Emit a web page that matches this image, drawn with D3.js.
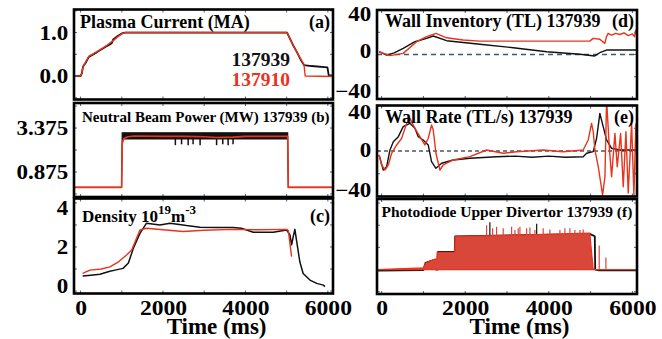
<!DOCTYPE html>
<html><head><meta charset="utf-8">
<script src="https://cdn.jsdelivr.net/npm/d3@7"></script>
<style>
body{margin:0;background:#fff;}
svg{display:block;}
svg text{font-family:"Liberation Serif","DejaVu Serif",Times,serif !important;font-weight:bold;}
</style></head><body>
<svg id="c" width="662" height="339"></svg>
<script>
// ================= DATA =================
const timeLabelTicks = [0, 2000, 4000, 6000];
const timeMinorTicks = [0, 1000, 2000, 3000, 4000, 5000, 6000];
const shotNames = ["137939", "137910"];

// (a) Plasma current, MA  [time ms, value]
const ip939 = [[-160,0],[0,0],[30,0.06],[60,0.22],[120,0.3],[200,0.44],[400,0.55],[600,0.67],[700,0.72],[760,0.76],[790,0.84],[900,0.92],[1000,0.98],[1080,1.0],[5010,1.0],[5060,0.9],[5150,0.72],[5250,0.55],[5350,0.36],[5420,0.25],[5600,0.23],[5990,0.2],[6020,0.02],[6125,0.01]];
const ip910 = [[-160,0],[0,0],[30,0.06],[60,0.22],[120,0.32],[200,0.45],[400,0.56],[600,0.68],[700,0.75],[800,0.82],[900,0.9],[1000,0.97],[1080,1.0],[5010,1.0],[5060,0.9],[5150,0.72],[5250,0.55],[5350,0.38],[5420,0.27],[5450,0.0],[6125,-0.01]];

// (b) Neutral beam power, MW
const nbi939Time = [-160, 995, 1010, 5025, 5040, 6125];
const nbi939Low  = [0, 0, 2.75, 2.75, 0, 0];
const nbi939High = [0, 0, 3.1, 3.1, 0, 0];
const nbi939DipTime = [2300, 2450, 2610, 2730, 2900, 3300, 3450, 3580, 3700];
const nbi939DipValue = [2.4, 2.45, 2.4, 2.45, 2.4, 2.4, 2.45, 2.4, 2.45];
const nbi910 = [[-160,0],[995,0],[1010,2.5],[1050,2.78],[1150,2.88],[1300,2.92],[2000,2.9],[2500,2.9],[3000,2.88],[3300,2.84],[3700,2.86],[4000,2.9],[4500,2.9],[5025,2.9],[5040,0],[6125,0]];

// (c) Density, 1e19 m^-3
const ne939 = [[50,0.68],[250,0.72],[470,0.76],[710,0.9],[835,0.95],[1030,1.03],[1160,1.27],[1280,1.94],[1440,2.62],[1600,3.08],[1925,3.0],[2170,3.08],[2570,2.97],[2900,2.9],[3300,2.88],[3700,2.88],[3900,2.85],[4190,2.67],[4675,2.67],[5000,2.77],[5080,2.55],[5120,2.1],[5160,2.47],[5200,2.8],[5240,2.3],[5320,1.33],[5400,0.8],[5565,0.5],[5730,0.35],[5890,0.27],[5930,0.2]];
const ne910 = [[50,0.8],[226,0.95],[500,1.0],[710,1.1],[900,1.3],[1115,1.64],[1240,1.86],[1440,2.77],[1600,2.85],[2000,2.78],[2490,2.7],[3000,2.76],[3700,2.8],[4300,2.78],[5000,2.8],[5040,2.75],[5120,1.56]];

// (d) Wall inventory, TL
const wi939 = [[-60,2.5],[120,-0.5],[300,1.5],[517,5.5],[797,11.5],[1077,14.5],[1235,16.6],[1555,12.4],[2350,9.2],[3150,6.1],[3950,2.5],[4745,0.2],[5100,-1.3],[5220,1.6],[5380,4],[6110,4]];
const wi910 = [[-60,2.5],[200,-1],[517,1],[837,11.5],[1077,16],[1300,19],[1555,15],[1950,13],[2350,12],[4980,12],[5060,14.5],[5220,13.7],[5340,10],[5380,16],[5420,19],[5500,17.5],[5600,19],[5700,18],[5800,19.5],[5900,17],[6000,18.5],[6050,16],[6080,22],[6110,16]];

// (e) Wall rate, TL/s
const wr939 = [[-60,-3.5],[40,-16.7],[120,-13.8],[200,0.9],[280,8.2],[400,12.6],[517,21.4],[677,24.3],[797,20],[877,12.6],[995,9.7],[1115,5.3],[1195,-9.4],[1300,-15.2],[1435,-10.8],[1713,-7.9],[2112,-6.4],[2750,-5],[3200,-4.5],[3600,-5.5],[4000,-4.5],[4400,-5.5],[4823,-5],[4904,-2],[5062,-0.6],[5143,11],[5222,33],[5301,21.4],[5383,9.7],[5502,2.4],[5700,0.9],[6110,0.9]];
const wr910 = [[-60,-3.5],[0,-12.3],[80,-16.7],[160,-12.3],[240,-2],[360,5.3],[478,11],[600,24.3],[677,28.7],[797,20],[916,12.6],[1036,5.3],[1115,11],[1196,22.9],[1236,18.5],[1300,-2],[1395,-16.7],[1474,-12.3],[1713,-7.9],[2112,-5],[2512,0.9],[2910,-2],[3230,-0.6],[3866,0.9],[4344,-0.6],[4823,0.9],[4943,9.7],[5023,24.3],[5063,17],[5103,0.9],[5183,-13.8],[5287,-38.7],[5343,-22.6],[5382,45],[5447,3.8],[5502,-22.6],[5582,15.5],[5637,-13.8],[5718,15.5],[5781,-31.4],[5845,17],[5900,-37],[5981,24.3],[6036,-38.7],[6084,24.3]];

// (f) Photodiode upper divertor, arb. units
const pd939 = [[-110,-0.05],[1000,-0.02],[1050,0.3],[1280,0.45],[1300,0.0],[1340,0.0],[1350,0.8],[1750,0.8],[1760,1.5],[4990,1.6],[5100,1.5],[5110,0.0],[5200,-0.03],[6110,-0.03]];
const pd910 = [[-110,0],[1000,0.08],[1060,0.3],[1250,0.45],[1320,0.48],[1330,0.78],[1750,0.78],[1760,1.5],[2500,1.52],[3500,1.56],[4500,1.62],[4980,1.64],[5060,0.05],[5070,0],[6110,0]];
const pd910SpikeTime  = [2512,2656,2751,2909,3110,3189,3268,3309,3469,3548,3668,3866,4026,4266,4385,4505,4624,4744,4823,5206,5366];
const pd910SpikeValue = [2.0,1.86,1.93,1.86,1.93,1.78,1.86,1.93,1.86,1.9,1.78,1.86,1.81,1.78,1.86,1.86,1.78,1.78,1.81,1.08,0.55];
const pd939SpikeTime  = [2590, 3710];
const pd939SpikeValue = [2.13, 2.06];

// ================= DRAWING =================
const FONT = '"Liberation Serif","DejaVu Serif",Times,serif';
const BLACK = "#111", RED = "#e8341c", FILL = "#d8473a", TICKC = "#4b6584";
const svg = d3.select("#c");

const xL = d3.scaleLinear().domain([-160, 6125]).range([74, 333]);
const xR = d3.scaleLinear().domain([-110, 6110]).range([377, 637]);

const panels = {
  a: {x: xL, y: d3.scaleLinear().domain([-0.54, 1.53]).range([99.5, 9.5]), minor: [-0.5,0,0.5,1,1.5], labels: [0,1], fmt: d3.format(".1f"), nudge: {}},
  b: {x: xL, y: d3.scaleLinear().domain([-0.55, 4.8]).range([197, 103]), minor: [-0.375,0.875,2.125,3.375,4.625], labels: [0.875,3.375], fmt: d3.format(".3f"), nudge: {}},
  c: {x: xL, y: d3.scaleLinear().domain([-0.11, 4.2]).range([293.5, 198.5]), minor: [0,1,2,3,4], labels: [0,2,4], fmt: d3.format("d"), nudge: {"4": 5, "0": -5}},
  d: {x: xR, y: d3.scaleLinear().domain([-40, 40]).range([99, 10]), minor: [-40,-20,0,20,40], labels: [-40,0,40], fmt: d3.format("d"), nudge: {"40": 4, "0": -4, "-40": -8}},
  e: {x: xR, y: d3.scaleLinear().domain([-40, 40]).range([196.5, 105.5]), minor: [-40,-20,0,20,40], labels: [-40,0,40], fmt: d3.format("d"), nudge: {"40": 6, "0": -1, "-40": -7}},
  f: {x: xR, y: d3.scaleLinear().domain([-1.1, 3.18]).range([294, 199]), minor: [-1,0,1,2,3], labels: [], fmt: d3.format("d"), nudge: {}}
};

let clipN = 0;
function setup(p) {
  const [x0, x1] = p.x.range(), [y1, y0] = p.y.range();
  p.box = {x0, x1, y0, y1};
  const id = "clip" + (clipN++);
  svg.append("clipPath").attr("id", id).append("rect")
    .attr("x", x0).attr("y", y0).attr("width", x1 - x0).attr("height", y1 - y0);
  p.g = svg.append("g");
  p.plot = p.g.append("g").attr("clip-path", `url(#${id})`);
  p.line = d3.line().x(d => p.x(d[0])).y(d => p.y(d[1]));
  const tk = p.g.append("g").attr("stroke", TICKC).attr("stroke-width", 1);
  timeMinorTicks.forEach(t => {
    const xx = p.x(t);
    tk.append("line").attr("x1", xx).attr("x2", xx).attr("y1", y1).attr("y2", y1 - 3);
    tk.append("line").attr("x1", xx).attr("x2", xx).attr("y1", y0).attr("y2", y0 + 3);
  });
  p.minor.forEach(v => {
    const yy = p.y(v);
    if (yy < y0 + 1 || yy > y1 - 1) return;
    tk.append("line").attr("x1", x0).attr("x2", x0 + 3).attr("y1", yy).attr("y2", yy);
    tk.append("line").attr("x1", x1).attr("x2", x1 - 3).attr("y1", yy).attr("y2", yy);
  });
  if (p.labels.length) {
    const ax = p.g.append("g").attr("transform", `translate(${x0},0)`)
      .call(d3.axisLeft(p.y).tickValues(p.labels).tickSize(0).tickPadding(5).tickFormat(p.fmt));
    ax.attr("font-family", FONT).attr("font-size", 20);
    ax.select(".domain").remove();
    ax.selectAll("text")
      .attr("font-family", FONT).attr("font-weight", "bold").attr("font-size", 20).attr("fill", "#000")
      .attr("dy", d => (0.34 * 20 + (p.nudge[String(d)] || 0)) + "px")
      .attr("transform", "scale(1.15,1)");
  }
}
function frame(p) {
  const b = p.box;
  p.g.append("rect").attr("x", b.x0).attr("y", b.y0).attr("width", b.x1 - b.x0).attr("height", b.y1 - b.y0)
    .attr("fill", "none").attr("stroke", "#000").attr("stroke-width", 2.6);
}
function txt(x, y, size, s, anchor, color) {
  return svg.append("text").attr("x", x).attr("y", y).attr("font-family", FONT).attr("font-weight", "bold")
    .attr("font-size", size).attr("fill", color || "#000").attr("text-anchor", anchor || "start").text(s);
}
function xAxis(p) {
  const ax = p.g.append("g").attr("transform", `translate(0,${p.box.y1})`)
    .call(d3.axisBottom(p.x).tickValues(timeLabelTicks).tickSize(0).tickPadding(7).tickFormat(d3.format("d")));
  ax.attr("font-family", FONT).attr("font-size", 20);
  ax.select(".domain").remove();
  ax.selectAll("text")
    .attr("font-family", FONT).attr("font-weight", "bold").attr("font-size", 20).attr("fill", "#000")
    .attr("transform", "scale(1.18,1)");
  txt(p.x(3300), 334, 23, "Time (ms)", "middle");
}
function tag(p, s, y, size) { txt(p.box.x1 - 3, y, size, s, "end"); }
function path(p, data, color, w) {
  p.plot.append("path").datum(data).attr("d", p.line).attr("fill", "none")
    .attr("stroke", color).attr("stroke-width", w || 1.4).attr("stroke-linejoin", "round");
}
Object.values(panels).forEach(setup);

// ---- (a)
{
  const p = panels.a;
  path(p, ip939, BLACK, 1.8);
  path(p, ip910, RED, 1.4);
  frame(p);
  txt(80, 28, 18, "Plasma Current (MA)");
  tag(p, "(a)", 28, 18);
  txt(290, 66, 19.5, shotNames[0], "end", BLACK);
  txt(290, 86, 19.5, shotNames[1], "end", RED);
}
// ---- (b)
{
  const p = panels.b;
  const band = nbi939Time.map((t, i) => ({t, lo: nbi939Low[i], hi: nbi939High[i]}));
  p.plot.append("path").datum(band)
    .attr("d", d3.area().x(d => p.x(d.t)).y0(d => p.y(d.lo)).y1(d => p.y(d.hi)))
    .attr("fill", BLACK).attr("stroke", BLACK).attr("stroke-width", 1.2);
  nbi939DipTime.forEach((t, i) => {
    p.plot.append("line").attr("x1", p.x(t)).attr("x2", p.x(t))
      .attr("y1", p.y(2.75)).attr("y2", p.y(nbi939DipValue[i])).attr("stroke", BLACK).attr("stroke-width", 1.5);
  });
  path(p, nbi910, RED, 1.6);
  frame(p);
  txt(82, 121.5, 15, "Neutral Beam Power (MW) 137939 (b)");
}
// ---- (c)
{
  const p = panels.c;
  path(p, ne939, BLACK, 1.5);
  path(p, ne910, RED, 1.4);
  frame(p);
  const t = txt(82, 221.5, 17, "");
  t.append("tspan").text("Density 10");
  t.append("tspan").attr("dy", -8).attr("font-size", 13).text("19");
  t.append("tspan").attr("dy", 8).text("m");
  t.append("tspan").attr("dy", -8).attr("font-size", 13).text("-3");
  tag(p, "(c)", 221.5, 18);
  xAxis(p);
}
// ---- (d)
{
  const p = panels.d;
  p.plot.append("line").attr("x1", p.box.x0).attr("x2", p.box.x1).attr("y1", p.y(0)).attr("y2", p.y(0))
    .attr("stroke", "#3d5a73").attr("stroke-width", 1.6).attr("stroke-dasharray", "5,4");
  path(p, wi939, BLACK, 1.4);
  path(p, wi910, RED, 1.4);
  frame(p);
  txt(385, 26.7, 18, "Wall Inventory (TL) 137939");
  tag(p, "(d)", 26.7, 18);
}
// ---- (e)
{
  const p = panels.e;
  p.plot.append("line").attr("x1", p.box.x0).attr("x2", p.box.x1).attr("y1", p.y(0)).attr("y2", p.y(0))
    .attr("stroke", "#000").attr("stroke-width", 1.2).attr("stroke-dasharray", "4,3");
  path(p, wr939, BLACK, 1.4);
  path(p, wr910, RED, 1.4);
  frame(p);
  txt(385, 123.3, 18, "Wall Rate (TL/s) 137939");
  tag(p, "(e)", 123, 18);
}
// ---- (f)
{
  const p = panels.f;
  path(p, pd939, BLACK, 1.8);
  pd939SpikeTime.forEach((t, i) => {
    p.plot.append("line").attr("x1", p.x(t)).attr("x2", p.x(t)).attr("y1", p.y(1.5)).attr("y2", p.y(pd939SpikeValue[i]))
      .attr("stroke", BLACK).attr("stroke-width", 1.2);
  });
  p.plot.append("path").datum(pd910)
    .attr("d", d3.area().x(d => p.x(d[0])).y0(p.y(0)).y1(d => p.y(d[1])))
    .attr("fill", FILL).attr("stroke", RED).attr("stroke-width", 1.2);
  pd910SpikeTime.forEach((t, i) => {
    const base = t > 5000 ? 0 : 1.5;
    p.plot.append("line").attr("x1", p.x(t)).attr("x2", p.x(t)).attr("y1", p.y(base)).attr("y2", p.y(pd910SpikeValue[i]))
      .attr("stroke", FILL).attr("stroke-width", 1.2);
  });
  frame(p);
  txt(381.5, 216.7, 15.5, "Photodiode Upper Divertor 137939  (f)");
  xAxis(p);
}
</script>
</body></html>
